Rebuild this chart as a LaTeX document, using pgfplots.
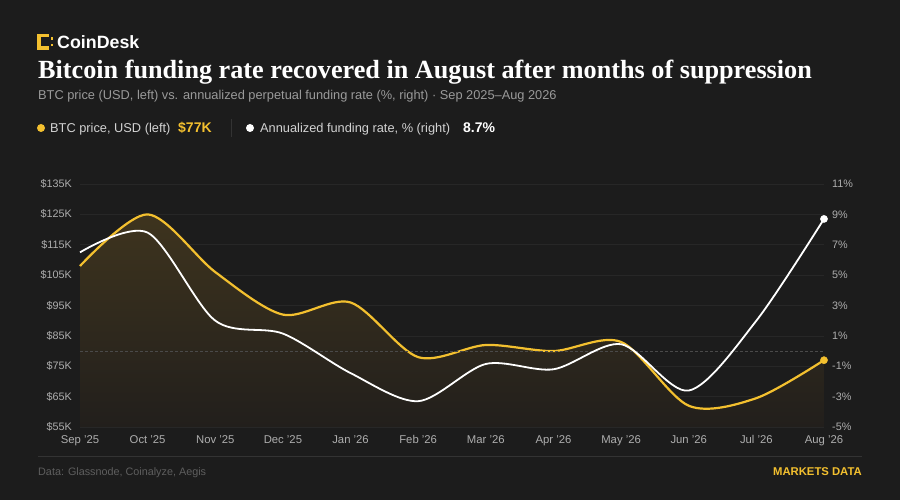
\documentclass[border=0pt]{standalone}
\usepackage{pgfplots}
\pgfplotsset{compat=1.18}
\usepackage{fontspec}
\setmainfont{Liberation Sans}
\newfontfamily\titlefont{Liberation Serif}
\definecolor{bgc}{HTML}{1C1C1C}
\definecolor{btc}{HTML}{F3C02F}
\definecolor{gridc}{HTML}{272727}
\definecolor{zeroc}{HTML}{4A4A4A}
\definecolor{tickc}{HTML}{AEAEAE}
\definecolor{subc}{HTML}{9A9A9A}
\definecolor{legc}{HTML}{D2D2D2}
\definecolor{footc}{HTML}{5E5E5E}
\definecolor{sepc}{HTML}{333333}
\definecolor{filltop}{HTML}{3E341E}
\definecolor{fillbot}{HTML}{221F1C}

\pgfplotstableread{
x btc
0 108
1 125
2 106
3 92
4 96
5 78
6 82
7 80
8 83
9 62
10 64.5
11 77
}\btcdata
\pgfplotstableread{
x fr
0 6.5
1 7.8
2 2.0
3 1.15
4 -1.45
5 -3.3
6 -0.85
7 -1.2
8 0.45
9 -2.6
10 2.0
11 8.7
}\frdata

\begin{document}
\begin{tikzpicture}[x=1pt,y=1pt]
\fill[bgc] (0,0) rectangle (900,500);
% logo
\fill[btc] (37,450) rectangle (40.5,466);
\fill[btc] (37,462.5) rectangle (49,466);
\fill[btc] (37,450) rectangle (49,453.5);
\fill[btc] (50.5,460) rectangle (53,462.5);
\fill[btc] (50.5,453.5) rectangle (53,456);
\node[anchor=base west, inner sep=0pt, text=white] at (57,451) {\fontsize{17.8}{20}\selectfont\bfseries CoinDesk};
% title
\node[anchor=base west, inner sep=0pt, text=white] at (38,421) {\titlefont\fontsize{26.2}{30}\selectfont\bfseries Bitcoin funding rate recovered in August after months of suppression};
\node[anchor=base west, inner sep=0pt, text=subc] at (38,400.5) {\fontsize{12.8}{15}\selectfont BTC price (USD, left) vs. annualized perpetual funding rate (\%, right) \textperiodcentered{} Sep 2025\textendash Aug 2026};
% legend
\fill[btc] (41,372) circle (4);
\node[anchor=base west, inner sep=0pt, text=legc] at (50,367) {\fontsize{12.8}{15}\selectfont BTC price, USD (left)};
\node[anchor=base west, inner sep=0pt, text=btc] at (178,367) {\fontsize{14}{16}\selectfont\bfseries \$77K};
\draw[sepc, line width=0.8pt] (231,363) -- (231,381);
\fill[white] (250,372) circle (4);
\node[anchor=base west, inner sep=0pt, text=legc] at (260,367) {\fontsize{12.8}{15}\selectfont Annualized funding rate, \% (right)};
\node[anchor=base west, inner sep=0pt, text=white] at (463,367) {\fontsize{14}{16}\selectfont\bfseries 8.7\%};

\begin{axis}[
  at={(80pt,73pt)}, anchor=south west, scale only axis,
  width=744pt, height=243pt,
  xmin=0, xmax=11, ymin=55, ymax=135,
  axis line style={draw=none}, major tick length=0pt,
  ytick={55,65,...,135},
  yticklabels={\$55K,\$65K,\$75K,\$85K,\$95K,\$105K,\$115K,\$125K,\$135K},
  xtick={0,...,11},
  xticklabels={Sep '25,Oct '25,Nov '25,Dec '25,Jan '26,Feb '26,Mar '26,Apr '26,May '26,Jun '26,Jul '26,Aug '26},
  ymajorgrids, grid style={gridc, line width=0.6pt},
  ticklabel style={font=\fontsize{10.8}{12}\selectfont, text=tickc},
  yticklabel style={anchor=east, inner sep=0pt, xshift=-8pt},
  xticklabel style={anchor=north, inner sep=0pt, yshift=-8pt, font=\fontsize{11.3}{12}\selectfont},
  clip=false,
]
\addplot[draw=none, top color=filltop, bottom color=fillbot, smooth] table[x=x,y=btc]{\btcdata} \closedcycle;
\addplot[btc, line width=2.2pt, smooth] table[x=x,y=btc]{\btcdata};
\addplot[only marks, mark=*, mark size=3.6pt, btc, mark options={draw=btc, fill=btc}] coordinates {(11,77)};
\end{axis}

\begin{axis}[
  at={(80pt,73pt)}, anchor=south west, scale only axis,
  width=744pt, height=243pt,
  xmin=0, xmax=11, ymin=-5, ymax=11,
  axis line style={draw=none}, major tick length=0pt,
  axis y line*=right, xtick=\empty,
  ytick={-5,-3,...,11},
  yticklabels={-5\%,-3\%,-1\%,1\%,3\%,5\%,7\%,9\%,11\%},
  ticklabel style={font=\fontsize{10.8}{12}\selectfont, text=tickc},
  yticklabel style={anchor=west, inner sep=0pt, xshift=8pt},
  clip=false,
]
\addplot[zeroc, dashed, line width=0.6pt, dash pattern=on 2.5pt off 2.5pt] coordinates {(0,0) (11,0)};
\addplot[white, line width=1.8pt, smooth] table[x=x,y=fr]{\frdata};
\addplot[only marks, mark=*, mark size=3.6pt, mark options={draw=white, fill=white}] coordinates {(11,8.7)};
\end{axis}

% footer
\draw[sepc, line width=0.6pt] (38,44) -- (862,44);
\node[anchor=base west, inner sep=0pt, text=footc] at (38,24) {\fontsize{10.8}{12}\selectfont Data: Glassnode, Coinalyze, Aegis};
\node[anchor=base east, inner sep=0pt, text=btc] at (862,24) {\fontsize{11.3}{13}\selectfont\bfseries MARKETS DATA};
\pgfresetboundingbox
\useasboundingbox (0,0) rectangle (900,500);
\end{tikzpicture}
\end{document}
